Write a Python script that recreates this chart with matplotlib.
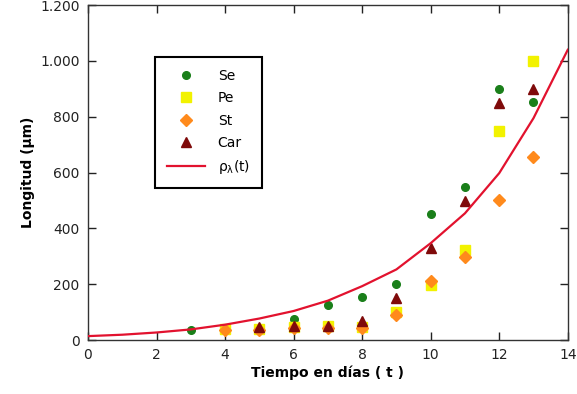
import numpy as np
import matplotlib
matplotlib.use("Agg")
import matplotlib.pyplot as plt
from matplotlib.ticker import FuncFormatter

# values
t_se = [3, 6, 7, 8, 9, 10, 11, 12, 13]
se = [35, 76, 125, 153, 200, 450, 550, 900, 852]

t_pe = [4, 5, 6, 7, 8, 9, 10, 11, 12, 13]
pe = [40, 40, 45, 50, 48, 100, 197, 322, 750, 1000]

t_st = [4, 5, 6, 7, 8, 9, 10, 11, 12, 13]
st = [37, 35, 42, 42, 42, 88, 210, 298, 502, 655]

t_car = [5, 6, 7, 8, 9, 10, 11, 12, 13]
car = [48, 51, 51, 69, 152, 328, 499, 848, 898]

t_rho = list(range(0, 15))
rho = [14, 19, 27, 38, 55, 77, 104, 141, 193, 253, 347, 454, 598, 795, 1040]

fig = plt.figure(figsize=(5.77, 3.94), dpi=100)
ax = fig.add_axes([0.1525, 0.137, 0.8315, 0.85])

ax.plot(t_se, se, 'o', color='#1a7f1a', ms=5.5, label='Se', zorder=3)
ax.plot(t_pe, pe, 's', color='#f2f200', ms=7, label='Pe', zorder=3)
ax.plot(t_st, st, 'D', color='#ff8a1c', ms=6.5, label='St', zorder=3)
ax.plot(t_car, car, '^', color='#7f0a0a', ms=7.5, label='Car', zorder=3)
ax.plot(t_rho, rho, '-', color='#e2122e', lw=1.6, label=r'ρ$_\mathregular{λ}$(t)', zorder=4)

ax.set_xlim(0, 14)
ax.set_ylim(0, 1200)
ax.set_xticks(range(0, 15, 2))
ax.set_yticks(range(0, 1201, 200))
ax.yaxis.set_major_formatter(FuncFormatter(lambda v, p: f"{int(v):,}".replace(",", ".")))

ax.tick_params(direction='in', length=6, width=1, top=True, right=True,
               labelsize=10, colors='#222222', pad=6)
for s in ax.spines.values():
    s.set_color('#333333')
    s.set_linewidth(1)

ax.set_xlabel('Tiempo en días ( t )', fontweight='bold', fontsize=10, labelpad=2)
ax.set_ylabel('Longitud (μm)', fontweight='bold', fontsize=10, labelpad=4)

leg = ax.legend(loc='upper left', bbox_to_anchor=(0.14, 0.845), borderaxespad=0,
                fancybox=False, edgecolor='black', framealpha=1, fontsize=10,
                handlelength=2.75, handletextpad=0.9, borderpad=0.85, labelspacing=0.6)
leg.get_frame().set_linewidth(1.5)

fig.savefig('out.png', dpi=100)
